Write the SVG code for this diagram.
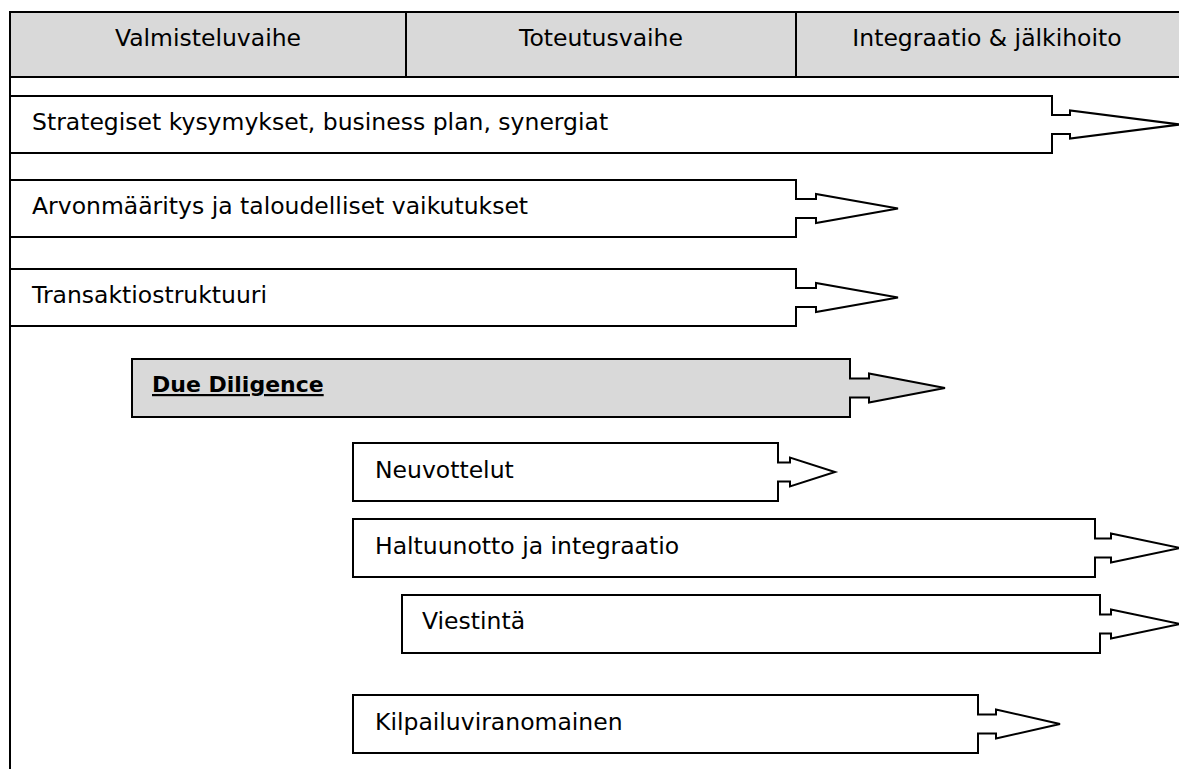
<svg xmlns="http://www.w3.org/2000/svg" width="1179" height="769" viewBox="0 0 1179 769">
<style>
  .t { font-family: "DejaVu Sans", "Liberation Sans", sans-serif; font-size: 23.5px; fill: #000; }
  .h { text-anchor: middle; }
  .b { font-weight: bold; text-decoration: underline; font-size: 22px; }
  .ar { fill: #fff; stroke: #000; stroke-width: 2; stroke-linejoin: miter; }
  .g { fill: #d9d9d9; }
  .ln { stroke: #000; stroke-width: 2; fill: none; }
</style>
<rect width="1179" height="769" fill="#fff"/>
<g id="frame">
  <rect x="10" y="12" width="1180" height="65" fill="#d9d9d9" stroke="#000" stroke-width="2"/>
  <line class="ln" x1="406" y1="12" x2="406" y2="77"/>
  <line class="ln" x1="796" y1="12" x2="796" y2="77"/>
  <line class="ln" x1="10" y1="77" x2="10" y2="770"/>
  <text class="t h" x="208" y="46">Valmisteluvaihe</text>
  <text class="t h" x="601" y="46">Toteutusvaihe</text>
  <text class="t h" x="987" y="46">Integraatio &amp; jälkihoito</text>
</g>
<g id="strategiset">
  <path class="ar" d="M10,96 H1052 V115 H1070 V110.5 L1180,124.5 L1070,138.5 V134 H1052 V153 H10 Z"/>
  <text class="t" x="32" y="129.5">Strategiset kysymykset, business plan, synergiat</text>
</g>
<g id="arvonmaaritys">
  <path class="ar" d="M10,180 H796 V199 H816 V194 L898,208.5 L816,223 V218 H796 V237 H10 Z"/>
  <text class="t" x="32" y="214">Arvonmääritys ja taloudelliset vaikutukset</text>
</g>
<g id="transaktiostruktuuri">
  <path class="ar" d="M10,269 H796 V288 H816 V283 L898,297.5 L816,312 V307 H796 V326 H10 Z"/>
  <text class="t" x="32" y="303">Transaktiostruktuuri</text>
</g>
<g id="due-diligence">
  <path class="ar g" d="M132,359 H850 V378.5 H869 V373.5 L945,388 L869,402.5 V397.5 H850 V417 H132 Z"/>
  <text class="t b" x="152" y="392">Due Diligence</text>
</g>
<g id="neuvottelut">
  <path class="ar" d="M353,443 H778 V462.5 H790 V457.5 L835,472 L790,486.5 V481.5 H778 V501 H353 Z"/>
  <text class="t" x="375" y="478">Neuvottelut</text>
</g>
<g id="haltuunotto">
  <path class="ar" d="M353,519 H1095 V538.5 H1111 V533.5 L1180,548 L1111,562.5 V557.5 H1095 V577 H353 Z"/>
  <text class="t" x="375" y="554">Haltuunotto ja integraatio</text>
</g>
<g id="viestinta">
  <path class="ar" d="M402,595 H1100 V614.5 H1111 V609.5 L1180,624 L1111,638.5 V633.5 H1100 V653 H402 Z"/>
  <text class="t" x="422" y="628.5">Viestintä</text>
</g>
<g id="kilpailuviranomainen">
  <path class="ar" d="M353,695 H978 V714.5 H996 V709.5 L1060,724 L996,738.5 V733.5 H978 V753 H353 Z"/>
  <text class="t" x="375" y="730">Kilpailuviranomainen</text>
</g>
<g id="connectors"></g>
</svg>
